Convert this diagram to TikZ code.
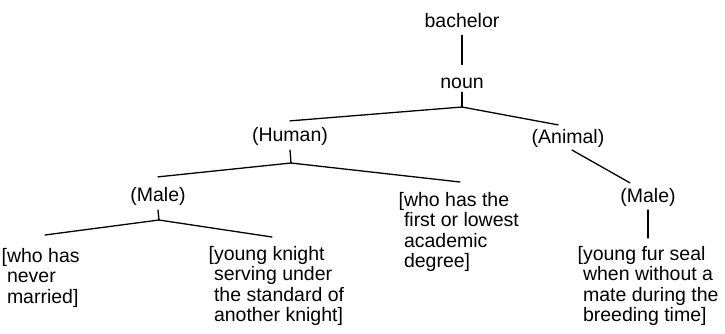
\documentclass[tikz,border=0pt]{standalone}
\usepackage{fontspec}
\setmainfont{Liberation Sans}
\begin{document}
\begin{tikzpicture}[x=1pt,y=-1pt,
  lbl/.style={inner sep=0pt,outer sep=0pt,font=\fontsize{19.5}{20.5}\selectfont},
  gloss/.style={lbl,align=left,anchor=north west},
  edge/.style={line width=1.3pt,line cap=round}]
\useasboundingbox (0,0) rectangle (725,333);
% nodes
\node[lbl,anchor=base] (bach) at (462,27) {bachelor};
\node[lbl,anchor=base] (noun) at (462,88) {noun};
\node[lbl,anchor=base] (human) at (290,141) {(Human)};
\node[lbl,anchor=base] (animal) at (568,143) {(Animal)};
\node[lbl,anchor=base] (maleL) at (158,201) {(Male)};
\node[lbl,anchor=base] (maleR) at (648,202) {(Male)};
\node[gloss] (never) at (7,248) {\llap{[}who has\\never\\married]};
\node[gloss] (knight) at (214,246) {\llap{[}young knight\\serving under\\the standard of\\another knight]};
\node[gloss] (degree) at (404,192) {\llap{[}who has the\\first or lowest\\academic\\degree]};
\node[gloss] (seal) at (583,246) {\llap{[}young fur seal\\when without a\\mate during the\\breeding time]};
% junctions
\coordinate (j1) at (462,107);
\coordinate (j2) at (291,163);
\coordinate (j3) at (159,220);
% connectors
\draw[edge] ([yshift=-8pt]bach.south) -- ([yshift=13pt]noun.north);
\draw[edge] ([yshift=-4pt]noun.south) -- (j1);
\draw[edge] (j1) -- ([yshift=6pt]human.north);
\draw[edge] (j1) -- ([xshift=-10pt,yshift=4pt]animal.north);
\draw[edge] ([yshift=-5pt]human.south) -- (j2);
\draw[edge] (j2) -- ([yshift=10pt]maleL.north);
\draw[edge] (j2) -- ([xshift=56pt,yshift=10pt]degree.north west);
\draw[edge] ([xshift=4pt,yshift=-3pt]animal.south) -- ([xshift=-18pt,yshift=5pt]maleR.north);
\draw[edge] ([yshift=-5pt]maleL.south) -- (j3);
\draw[edge] (j3) -- ([xshift=38pt,yshift=13pt]never.north west);
\draw[edge] (j3) -- ([xshift=58pt,yshift=9pt]knight.north west);
\draw[edge] ([yshift=-4pt]maleR.south) -- ([yshift=8pt]seal.north -| maleR);
\end{tikzpicture}
\end{document}
